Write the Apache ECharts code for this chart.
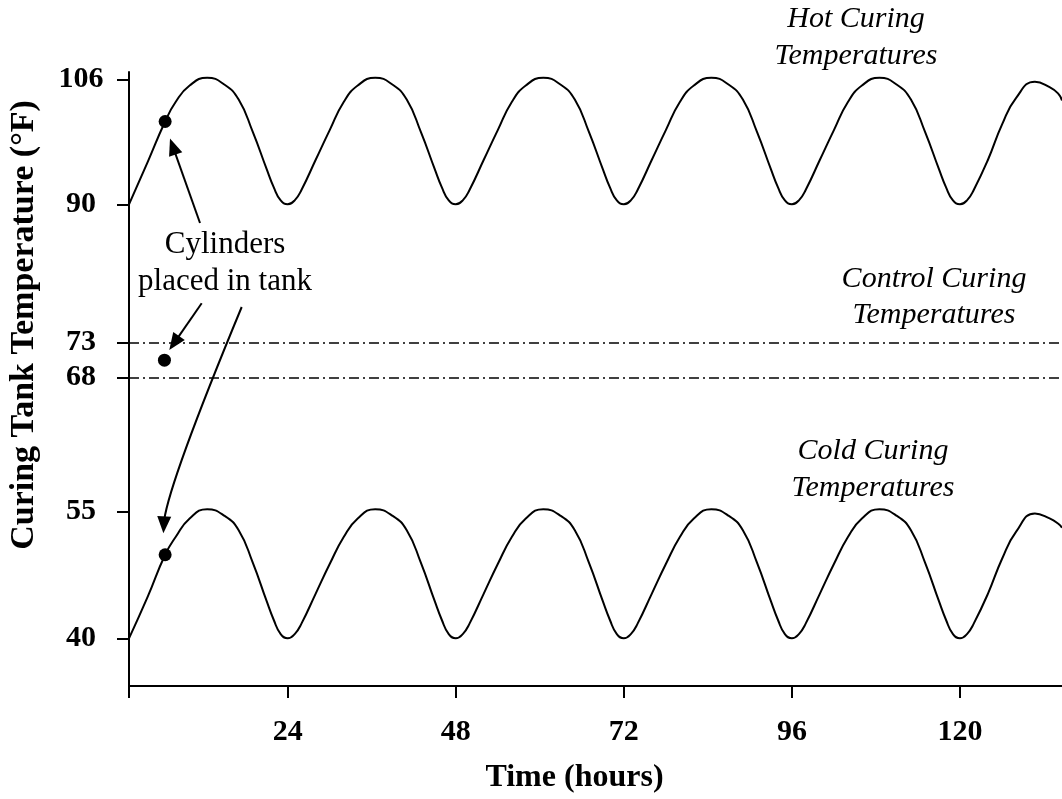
<!DOCTYPE html>
<html>
<head>
<meta charset="utf-8">
<script src="https://cdn.jsdelivr.net/npm/echarts@6/dist/echarts.min.js"></script>
<style>
  html, body { margin: 0; padding: 0; background: #fff; }
  #chart { width: 1062px; height: 799px; }
</style>
</head>
<body>
<div id="chart"></div>
<script>
// time axis (hours) shared by both curves
var hours = [
  1.34, 4, 6.5, 8, 10, 12.5, 15, 17, 19, 21, 22, 23, 24,
  25, 26, 28, 30, 32, 34, 36.5, 39, 41, 43, 45, 46, 47, 48,
  49, 50, 52, 54, 56, 58, 60.5, 63, 65, 67, 69, 70, 71, 72,
  73, 74, 76, 78, 80, 82, 84.5, 87, 89, 91, 93, 94, 95, 96,
  97, 98, 100, 102, 104, 106, 108.5, 111, 113, 115, 117, 118, 119, 120,
  121, 122, 124, 126, 128, 130.7, 132.8, 134, 134.57
];
// hot curing tank temperature (°F)
var hotTemps = [
  90, 95.4, 100.6, 103.1, 105.2, 106.2, 105.3, 103.4, 99.3, 94.5, 92.2, 90.5, 90,
  90.5, 91.9, 95.7, 99.5, 103.1, 105.2, 106.2, 105.3, 103.4, 99.3, 94.5, 92.2, 90.5, 90,
  90.5, 91.9, 95.7, 99.5, 103.1, 105.2, 106.2, 105.3, 103.4, 99.3, 94.5, 92.2, 90.5, 90,
  90.5, 91.9, 95.7, 99.5, 103.1, 105.2, 106.2, 105.3, 103.4, 99.3, 94.5, 92.2, 90.5, 90,
  90.5, 91.9, 95.7, 99.5, 103.1, 105.2, 106.2, 105.3, 103.4, 99.3, 94.5, 92.2, 90.5, 90,
  90.5, 91.9, 95.7, 100.2, 103.6, 105.7, 105.0, 104.2, 103.3
];
// cold curing tank temperature (°F)
var coldTemps = [
  40, 44.9, 49.9, 52.0, 54.2, 55.3, 54.5, 52.8, 49.0, 44.4, 42.2, 40.5, 40,
  40.5, 41.8, 45.3, 48.8, 52.0, 54.2, 55.3, 54.5, 52.8, 49.0, 44.4, 42.2, 40.5, 40,
  40.5, 41.8, 45.3, 48.8, 52.0, 54.2, 55.3, 54.5, 52.8, 49.0, 44.4, 42.2, 40.5, 40,
  40.5, 41.8, 45.3, 48.8, 52.0, 54.2, 55.3, 54.5, 52.8, 49.0, 44.4, 42.2, 40.5, 40,
  40.5, 41.8, 45.3, 48.8, 52.0, 54.2, 55.3, 54.5, 52.8, 49.0, 44.4, 42.2, 40.5, 40,
  40.5, 41.8, 45.3, 49.4, 52.6, 54.8, 54.2, 53.6, 53.1
];
// control curing limits (°F)
var controlLimits = [73, 68];
// points where cylinders were placed in tank [hour, °F]
var hotPlaced = [6.5, 100.6];
var controlPlaced = [6.4, 70.5];
var coldPlaced = [6.5, 49.9];
// tick labels
var hourTicks = [24, 48, 72, 96, 120];
var hotTicks = [90, 106];
var controlTicks = [68, 73];
var coldTicks = [40, 55];

var X_MIN = 1.34, X_MAX = 134.57;
var FONT = '"Liberation Serif", "Times New Roman", serif';

function pairs (xs, ys) {
  return xs.map(function (x, i) { return [x, ys[i]] })
}

// arrowhead polygon pointing from tail to tip
function arrowHead (tail, tip) {
  var dx = tip[0] - tail[0], dy = tip[1] - tail[1]
  var len = Math.sqrt(dx * dx + dy * dy)
  var ux = dx / len, uy = dy / len
  var L = 17, W = 7
  var bx = tip[0] - ux * L, by = tip[1] - uy * L
  return {
    type: 'polygon',
    shape: { points: [tip, [bx - uy * W, by + ux * W], [bx + uy * W, by - ux * W]] },
    style: { fill: '#000' }
  }
}

function arrowShaft (tail, tip) {
  var dx = tip[0] - tail[0], dy = tip[1] - tail[1]
  var len = Math.sqrt(dx * dx + dy * dy)
  var end = [tip[0] - dx / len * 12, tip[1] - dy / len * 12]
  return {
    type: 'line',
    shape: { x1: tail[0], y1: tail[1], x2: end[0], y2: end[1] },
    style: { stroke: '#000', lineWidth: 2 }
  }
}

var axisLineStyle = { color: '#000', width: 2 }
var tickLabel = { color: '#000', fontFamily: FONT, fontWeight: 'bold', fontSize: 30 }

function yAxisFor (grid, min, max, ticks) {
  return {
    type: 'value', gridIndex: grid, min: min, max: max,
    axisLine: { show: true, lineStyle: axisLineStyle },
    axisTick: { show: true, length: 12, lineStyle: axisLineStyle, customValues: ticks },
    axisLabel: Object.assign({ margin: 48, align: 'center', customValues: ticks }, tickLabel),
    splitLine: { show: false }
  }
}

function hiddenX (grid) {
  return { type: 'value', gridIndex: grid, min: X_MIN, max: X_MAX, show: false,
    axisLine: { onZero: false }, splitLine: { show: false } }
}

var curveStyle = { color: '#000', width: 2 }
var dotStyle = { color: '#000', opacity: 1 }

var chart = echarts.init(document.getElementById('chart'))
chart.setOption({
  animation: false,
  backgroundColor: '#fff',
  grid: [
    { left: 129, right: 0, top: 72, height: 198, containLabel: false, outerBoundsMode: 'none' },
    { left: 129, right: 0, top: 270, height: 170, containLabel: false, outerBoundsMode: 'none' },
    { left: 129, right: 0, top: 440, height: 246, containLabel: false, outerBoundsMode: 'none' }
  ],
  xAxis: [
    hiddenX(0),
    hiddenX(1),
    {
      type: 'value', gridIndex: 2, min: X_MIN, max: X_MAX,
      name: 'Time (hours)', nameLocation: 'middle', nameGap: 76,
      nameTextStyle: { color: '#000', fontFamily: FONT, fontWeight: 'bold', fontSize: 32, padding: [0, 42, 0, 0] },
      axisLine: { show: true, onZero: false, lineStyle: axisLineStyle },
      axisTick: { show: true, length: 12, lineStyle: axisLineStyle, customValues: [X_MIN].concat(hourTicks) },
      axisLabel: Object.assign({ margin: 31, customValues: hourTicks }, tickLabel),
      splitLine: { show: false }
    }
  ],
  yAxis: [
    yAxisFor(0, 81.59, 106.934, hotTicks),
    yAxisFor(1, 59.1, 83.386, controlTicks),
    yAxisFor(2, 34.35, 63.495, coldTicks)
  ],
  series: [
    {
      name: 'Hot Curing', type: 'line', xAxisIndex: 0, yAxisIndex: 0,
      data: pairs(hours, hotTemps), smooth: 0.5,
      showSymbol: false, lineStyle: curveStyle, silent: true
    },
    {
      type: 'scatter', xAxisIndex: 0, yAxisIndex: 0, data: [hotPlaced],
      symbolSize: 13, itemStyle: dotStyle, silent: true
    },
    {
      name: 'Control Curing', type: 'scatter', xAxisIndex: 1, yAxisIndex: 1, data: [controlPlaced],
      symbolSize: 13, itemStyle: dotStyle, silent: true,
      markLine: {
        silent: true, symbol: ['none', 'none'], label: { show: false },
        lineStyle: { color: '#000', width: 1.5, type: [10, 4, 2, 4], opacity: 1 },
        data: controlLimits.map(function (v) { return { yAxis: v } })
      }
    },
    {
      name: 'Cold Curing', type: 'line', xAxisIndex: 2, yAxisIndex: 2,
      data: pairs(hours, coldTemps), smooth: 0.5,
      showSymbol: false, lineStyle: curveStyle, silent: true
    },
    {
      type: 'scatter', xAxisIndex: 2, yAxisIndex: 2, data: [coldPlaced],
      symbolSize: 13, itemStyle: dotStyle, silent: true
    }
  ],
  graphic: [
    {
      type: 'text', x: 24, y: 325, rotation: Math.PI / 2,
      style: { text: 'Curing Tank Temperature (°F)', font: 'bold 34px ' + FONT,
        textAlign: 'center', textVerticalAlign: 'middle', fill: '#000' }
    },
    {
      type: 'text', x: 856, y: 38,
      style: { text: 'Hot Curing\nTemperatures', font: 'italic 30px ' + FONT, lineHeight: 37,
        textAlign: 'center', textVerticalAlign: 'middle', fill: '#000' }
    },
    {
      type: 'text', x: 934, y: 297,
      style: { text: 'Control Curing\nTemperatures', font: 'italic 30px ' + FONT, lineHeight: 36,
        textAlign: 'center', textVerticalAlign: 'middle', fill: '#000' }
    },
    {
      type: 'text', x: 873, y: 470,
      style: { text: 'Cold Curing\nTemperatures', font: 'italic 30px ' + FONT, lineHeight: 37,
        textAlign: 'center', textVerticalAlign: 'middle', fill: '#000' }
    },
    {
      type: 'text', x: 225, y: 263,
      style: { text: 'Cylinders\nplaced in tank', font: '31px ' + FONT, lineHeight: 37,
        textAlign: 'center', textVerticalAlign: 'middle', fill: '#000' }
    },
    arrowShaft([200, 223], [170, 138.5]),
    arrowHead([200, 223], [170, 138.5]),
    arrowShaft([201.7, 303.3], [169.3, 350]),
    arrowHead([201.7, 303.3], [169.3, 350]),
    {
      type: 'bezierCurve',
      shape: { x1: 241.7, y1: 307, cpx1: 170, cpy1: 480, x2: 164.2, y2: 520 },
      style: { stroke: '#000', lineWidth: 2, fill: null }
    },
    arrowHead([164.2, 517], [163.4, 533.3])
  ]
})
</script>
</body>
</html>
